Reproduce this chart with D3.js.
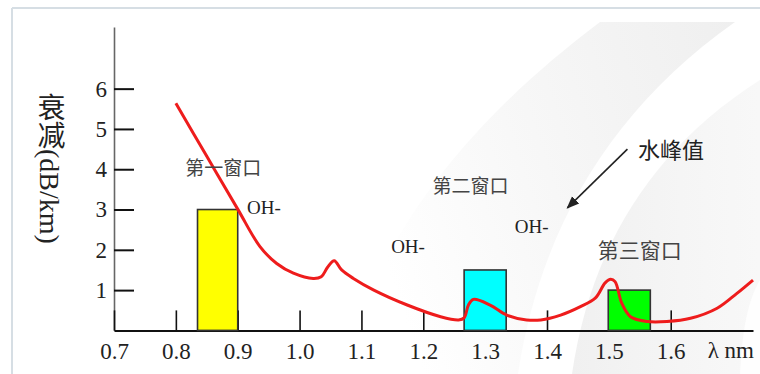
<!DOCTYPE html>
<html>
<head>
<meta charset="utf-8">
<script src="https://cdn.jsdelivr.net/npm/d3@7/dist/d3.min.js"></script>
<style>
  html, body { margin: 0; padding: 0; background: #ffffff; }
  svg { display: block; }
</style>
</head>
<body>
<svg id="chart" width="760" height="374"></svg>
<script>
// ---------- data ----------
const xTickValues = [0.7, 0.8, 0.9, 1.0, 1.1, 1.2, 1.3, 1.4, 1.5, 1.6];
const yTickValues = [1, 2, 3, 4, 5, 6];

// attenuation curve (wavelength µm, attenuation dB/km)
const curveWavelength = [0.80, 0.85, 0.90, 0.936, 0.963, 0.99, 1.022, 1.035, 1.045, 1.056, 1.068, 1.087, 1.12, 1.174, 1.228, 1.257, 1.266, 1.273, 1.281, 1.308, 1.335, 1.367, 1.39, 1.422, 1.454, 1.478, 1.494, 1.503, 1.51, 1.521, 1.535, 1.562, 1.594, 1.632, 1.675, 1.707, 1.733];
const curveAttenuation = [5.64, 4.32, 3.01, 2.08, 1.66, 1.42, 1.29, 1.33, 1.56, 1.73, 1.50, 1.29, 1.00, 0.63, 0.34, 0.26, 0.31, 0.63, 0.77, 0.63, 0.38, 0.26, 0.26, 0.38, 0.59, 0.80, 1.18, 1.27, 1.21, 0.67, 0.34, 0.22, 0.22, 0.30, 0.55, 0.92, 1.25];

// transmission windows
const windowStart = [0.835, 1.266, 1.499];
const windowEnd = [0.900, 1.334, 1.567];
const windowAttenuation = [3.0, 1.5, 1.0];
const windowColors = ["#ffff00", "#00ffff", "#00ff00"];

// annotations
const labelTexts = ["第一窗口", "OH-", "OH-", "第二窗口", "OH-", "水峰值", "第三窗口"];
const labelX = [0.815, 0.915, 1.148, 1.215, 1.348, 1.547, 1.482];
const labelY = [4.08, 3.06, 2.07, 3.61, 2.59, 4.52, 2.02];
const arrowFrom = [1.530, 4.50];
const arrowTo = [1.433, 3.04];

// ---------- layout ----------
const svg = d3.select("#chart");
const x0 = 114, xEnd = 753, yBase = 330.4, yTop = 27;
const x = d3.scaleLinear().domain([0.7, 1.733]).range([x0, xEnd]);
const y = d3.scaleLinear().domain([0, 7.53]).range([yBase, yTop]);

const SERIF = "Liberation Serif";
const CJK = "Noto Sans CJK SC";

// ---------- background swoosh ----------
const defs = svg.append("defs");
const g1 = defs.append("linearGradient").attr("id", "gA").attr("x1", "0").attr("y1", "0.3").attr("x2", "1").attr("y2", "0");
g1.append("stop").attr("offset", "0").attr("stop-color", "#efefef").attr("stop-opacity", 0);
g1.append("stop").attr("offset", "0.7").attr("stop-color", "#f1f1f1").attr("stop-opacity", 0.85);
g1.append("stop").attr("offset", "1").attr("stop-color", "#efefef").attr("stop-opacity", 1);
const g2 = defs.append("linearGradient").attr("id", "gB").attr("x1", "0").attr("y1", "0").attr("x2", "1").attr("y2", "0");
g2.append("stop").attr("offset", "0").attr("stop-color", "#f0f0f0").attr("stop-opacity", 1);
g2.append("stop").attr("offset", "1").attr("stop-color", "#f5f5f5").attr("stop-opacity", 0.7);

svg.append("path")
  .attr("d", "M 340 374 C 380 230, 470 120, 600 22 L 735 22 C 610 110, 540 230, 518 374 Z")
  .attr("fill", "url(#gA)");
svg.append("path")
  .attr("d", "M 572 374 C 590 250, 650 150, 760 80 L 760 374 Z")
  .attr("fill", "url(#gB)");
svg.append("path")
  .attr("d", "M 740 374 C 742 330, 748 300, 760 280 L 760 374 Z")
  .attr("fill", "#ffffff").attr("opacity", 0.8);

// frame lines
svg.append("line").attr("x1", 12).attr("y1", 8).attr("x2", 760).attr("y2", 8)
  .attr("stroke", "#d6dee4").attr("stroke-width", 2);
svg.append("line").attr("x1", 12).attr("y1", 8).attr("x2", 12).attr("y2", 374)
  .attr("stroke", "#d6dee4").attr("stroke-width", 2);

// ---------- axes ----------
const yAxis = d3.axisLeft(y).tickValues(yTickValues).tickSize(-20).tickSizeOuter(0).tickPadding(7).tickFormat(d3.format("d"));
const yG = svg.append("g").attr("transform", `translate(${x0},0)`).call(yAxis)
  .attr("font-family", SERIF).attr("font-size", 23);
yG.select(".domain").attr("stroke", "#666").attr("stroke-width", 1.6);
yG.selectAll(".tick line").attr("stroke", "#111").attr("stroke-width", 2);
yG.selectAll(".tick text").style("font-family", SERIF).style("font-size", "23px").attr("fill", "#222");

const xAxis = d3.axisBottom(x).tickValues(xTickValues).tickSize(-20).tickSizeOuter(0).tickPadding(12).tickFormat(d3.format(".1f"));
const xG = svg.append("g").attr("transform", `translate(0,${yBase})`).call(xAxis)
  .attr("font-family", SERIF).attr("font-size", 23);
xG.select(".domain").attr("stroke", "#111").attr("stroke-width", 2);
xG.selectAll(".tick line").attr("stroke", "#111").attr("stroke-width", 1.6);
xG.selectAll(".tick text").style("font-family", SERIF).style("font-size", "23px").attr("fill", "#222");

svg.append("text").attr("x", x(1.6) + 37).attr("y", yBase + 28)
  .style("font-family", SERIF).style("font-size", "23px").attr("fill", "#222").text("λ nm");

// y title (vertical writing: CJK upright, Latin sideways)
svg.append("text").attr("x", 49).attr("y", 93)
  .style("writing-mode", "vertical-rl")
  .style("font-family", `"${SERIF}", "${CJK}"`).style("font-size", "28px").attr("fill", "#222")
  .text("衰减(dB/km)");

// ---------- windows (bars) ----------
svg.append("g").selectAll("rect").data(windowStart).join("rect")
  .attr("x", (d) => x(d))
  .attr("y", (d, i) => y(windowAttenuation[i]))
  .attr("width", (d, i) => x(windowEnd[i]) - x(d))
  .attr("height", (d, i) => y(0) - y(windowAttenuation[i]))
  .attr("fill", (d, i) => windowColors[i])
  .attr("stroke", "#333").attr("stroke-width", 1.6);

// ---------- curve ----------
const line = d3.line().x((d) => x(d[0])).y((d) => y(d[1])).curve(d3.curveCatmullRom.alpha(0.5));
svg.append("path")
  .datum(curveWavelength.map((w, i) => [w, curveAttenuation[i]]))
  .attr("d", line)
  .attr("fill", "none").attr("stroke", "#ee1c1c").attr("stroke-width", 3).attr("stroke-linejoin", "round");

// ---------- annotations ----------
labelTexts.forEach((t, i) => {
  const isOH = t === "OH-";
  svg.append("text")
    .attr("x", x(labelX[i])).attr("y", y(labelY[i]))
    .attr("dominant-baseline", "central")
    .style("font-family", isOH ? SERIF : CJK)
    .style("font-size", (isOH ? 19 : (t === "水峰值" ? 22 : (t === "第三窗口" ? 21 : 19))) + "px")
    .attr("fill", isOH || t === "水峰值" ? "#222" : "#444")
    .text(t);
});

defs.append("marker").attr("id", "arrow").attr("viewBox", "0 0 10 10").attr("refX", 9).attr("refY", 5)
  .attr("markerWidth", 8).attr("markerHeight", 8).attr("orient", "auto")
  .append("path").attr("d", "M0,1 L10,5 L0,9 Z").attr("fill", "#222");
svg.append("line")
  .attr("x1", x(arrowFrom[0])).attr("y1", y(arrowFrom[1]))
  .attr("x2", x(arrowTo[0])).attr("y2", y(arrowTo[1]))
  .attr("stroke", "#222").attr("stroke-width", 1.6).attr("marker-end", "url(#arrow)");
</script>
</body>
</html>
